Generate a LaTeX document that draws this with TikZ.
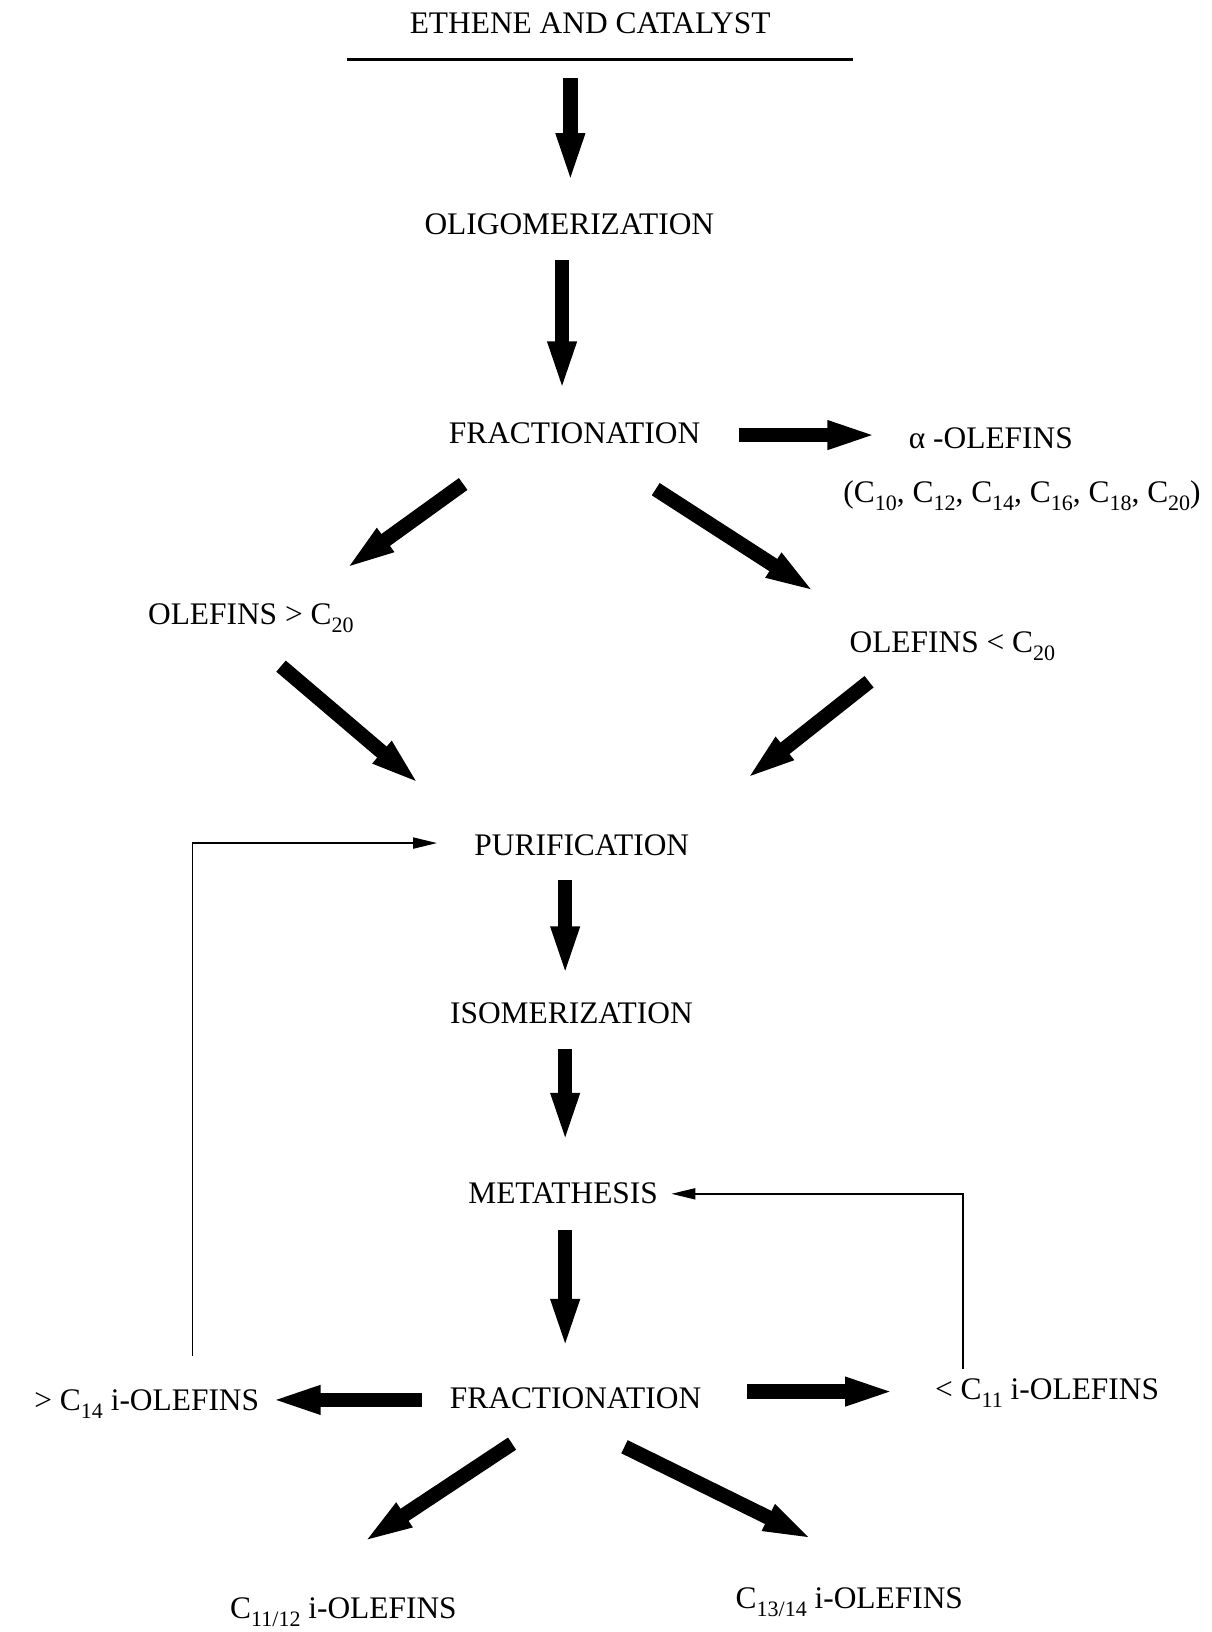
\documentclass[tikz,border=0pt]{standalone}
\usepackage{fontspec}
\setmainfont{Liberation Serif}
\usepackage{tikz}
\usetikzlibrary{arrows.meta,calc}
\newcommand{\lowsub}[1]{\raisebox{-4pt}{\fontsize{11}{12}\selectfont #1}}

\begin{document}
\begin{tikzpicture}[
  x=0.5202pt, y=-0.5202pt,
  lbl/.style={font=\fontsize{15.7}{18}\selectfont, inner sep=0pt, anchor=base},
  fat/.style={line width=7.3pt, -{Triangle[length=26pt 0 0, width=12.5pt 0 0]}},
  fb/.style={line width=0.9pt, -{Triangle[length=12pt 0 0, width=5.5pt 0 0]}}
]
  \useasboundingbox (0,0) rectangle (1164,1568);
  \node[lbl] (ethene) at (567,32) {ETHENE AND CATALYST};
  \node[lbl] (oligo) at (547,225) {OLIGOMERIZATION};
  \node[lbl] (frac1) at (552,426) {FRACTIONATION};
  \node[lbl] (alpha) at (952,431) {α -OLEFINS};
  \node[lbl] (alist) at (982,483) {(C\lowsub{10}, C\lowsub{12}, C\lowsub{14}, C\lowsub{16}, C\lowsub{18}, C\lowsub{20})};
  \node[lbl] (olgt) at (241,600) {OLEFINS > C\lowsub{20}};
  \node[lbl] (ollt) at (915,627) {OLEFINS < C\lowsub{20}};
  \node[lbl] (puri) at (559,822) {PURIFICATION};
  \node[lbl] (isom) at (549,983) {ISOMERIZATION};
  \node[lbl] (meta) at (541,1156) {METATHESIS};
  \node[lbl] (frac2) at (553,1353) {FRACTIONATION};
  \node[lbl] (cgt) at (141,1355) {> C\lowsub{14} i-OLEFINS};
  \node[lbl] (clt) at (1006,1345) {< C\lowsub{11} i-OLEFINS};
  \node[lbl] (clow) at (330,1555) {C\lowsub{11/12} i-OLEFINS};
  \node[lbl] (chigh) at (816,1545) {C\lowsub{13/14} i-OLEFINS};
  \draw[line width=1.6pt] ($(ethene.base)+(-234,25)$) -- ($(ethene.base)+(253,25)$);
  \draw[fat] ($(ethene.base)+(-19,43)$) -- ($(oligo.base)+(1,-47)$);
  \draw[fat] ($(oligo.base)+(-7,25)$) -- ($(frac1.base)+(-12,-48)$);
  \draw[fat] ($(frac1.base)+(158,-8)$) -- ($(alpha.base)+(-107,-13)$);
  \draw[fat] ($(frac1.base)+(-107,39)$) -- ($(olgt.base)+(89,-52)$);
  \draw[fat] ($(frac1.base)+(78,44)$) -- ($(ollt.base)+(-130,-57)$);
  \draw[fat] ($(olgt.base)+(29,40)$) -- ($(puri.base)+(-154,-67)$);
  \draw[fat] ($(ollt.base)+(-80,28)$) -- ($(puri.base)+(156,-72)$);
  \draw[fat] ($(puri.base)+(-16,23)$) -- ($(isom.base)+(-6,-43)$);
  \draw[fat] ($(isom.base)+(-6,25)$) -- ($(meta.base)+(2,-56)$);
  \draw[fat] ($(meta.base)+(2,26)$) -- ($(frac2.base)+(-10,-55)$);
  \draw[fat] ($(frac2.base)+(-148,-8)$) -- ($(cgt.base)+(117,-10)$);
  \draw[fat] ($(frac2.base)+(165,-16)$) -- ($(clt.base)+(-144,-8)$);
  \draw[fat] ($(frac2.base)+(-61,34)$) -- ($(clow.base)+(17,-72)$);
  \draw[fat] ($(frac2.base)+(47,37)$) -- ($(chigh.base)+(-33,-65)$);
  \draw[fb] ($(cgt.base)+(44,-52)$) |- ($(puri.base)+(-139,-12)$);
  \draw[fb] ($(clt.base)+(-81,-30)$) |- ($(meta.base)+(104,-9)$);
\end{tikzpicture}
\end{document}
